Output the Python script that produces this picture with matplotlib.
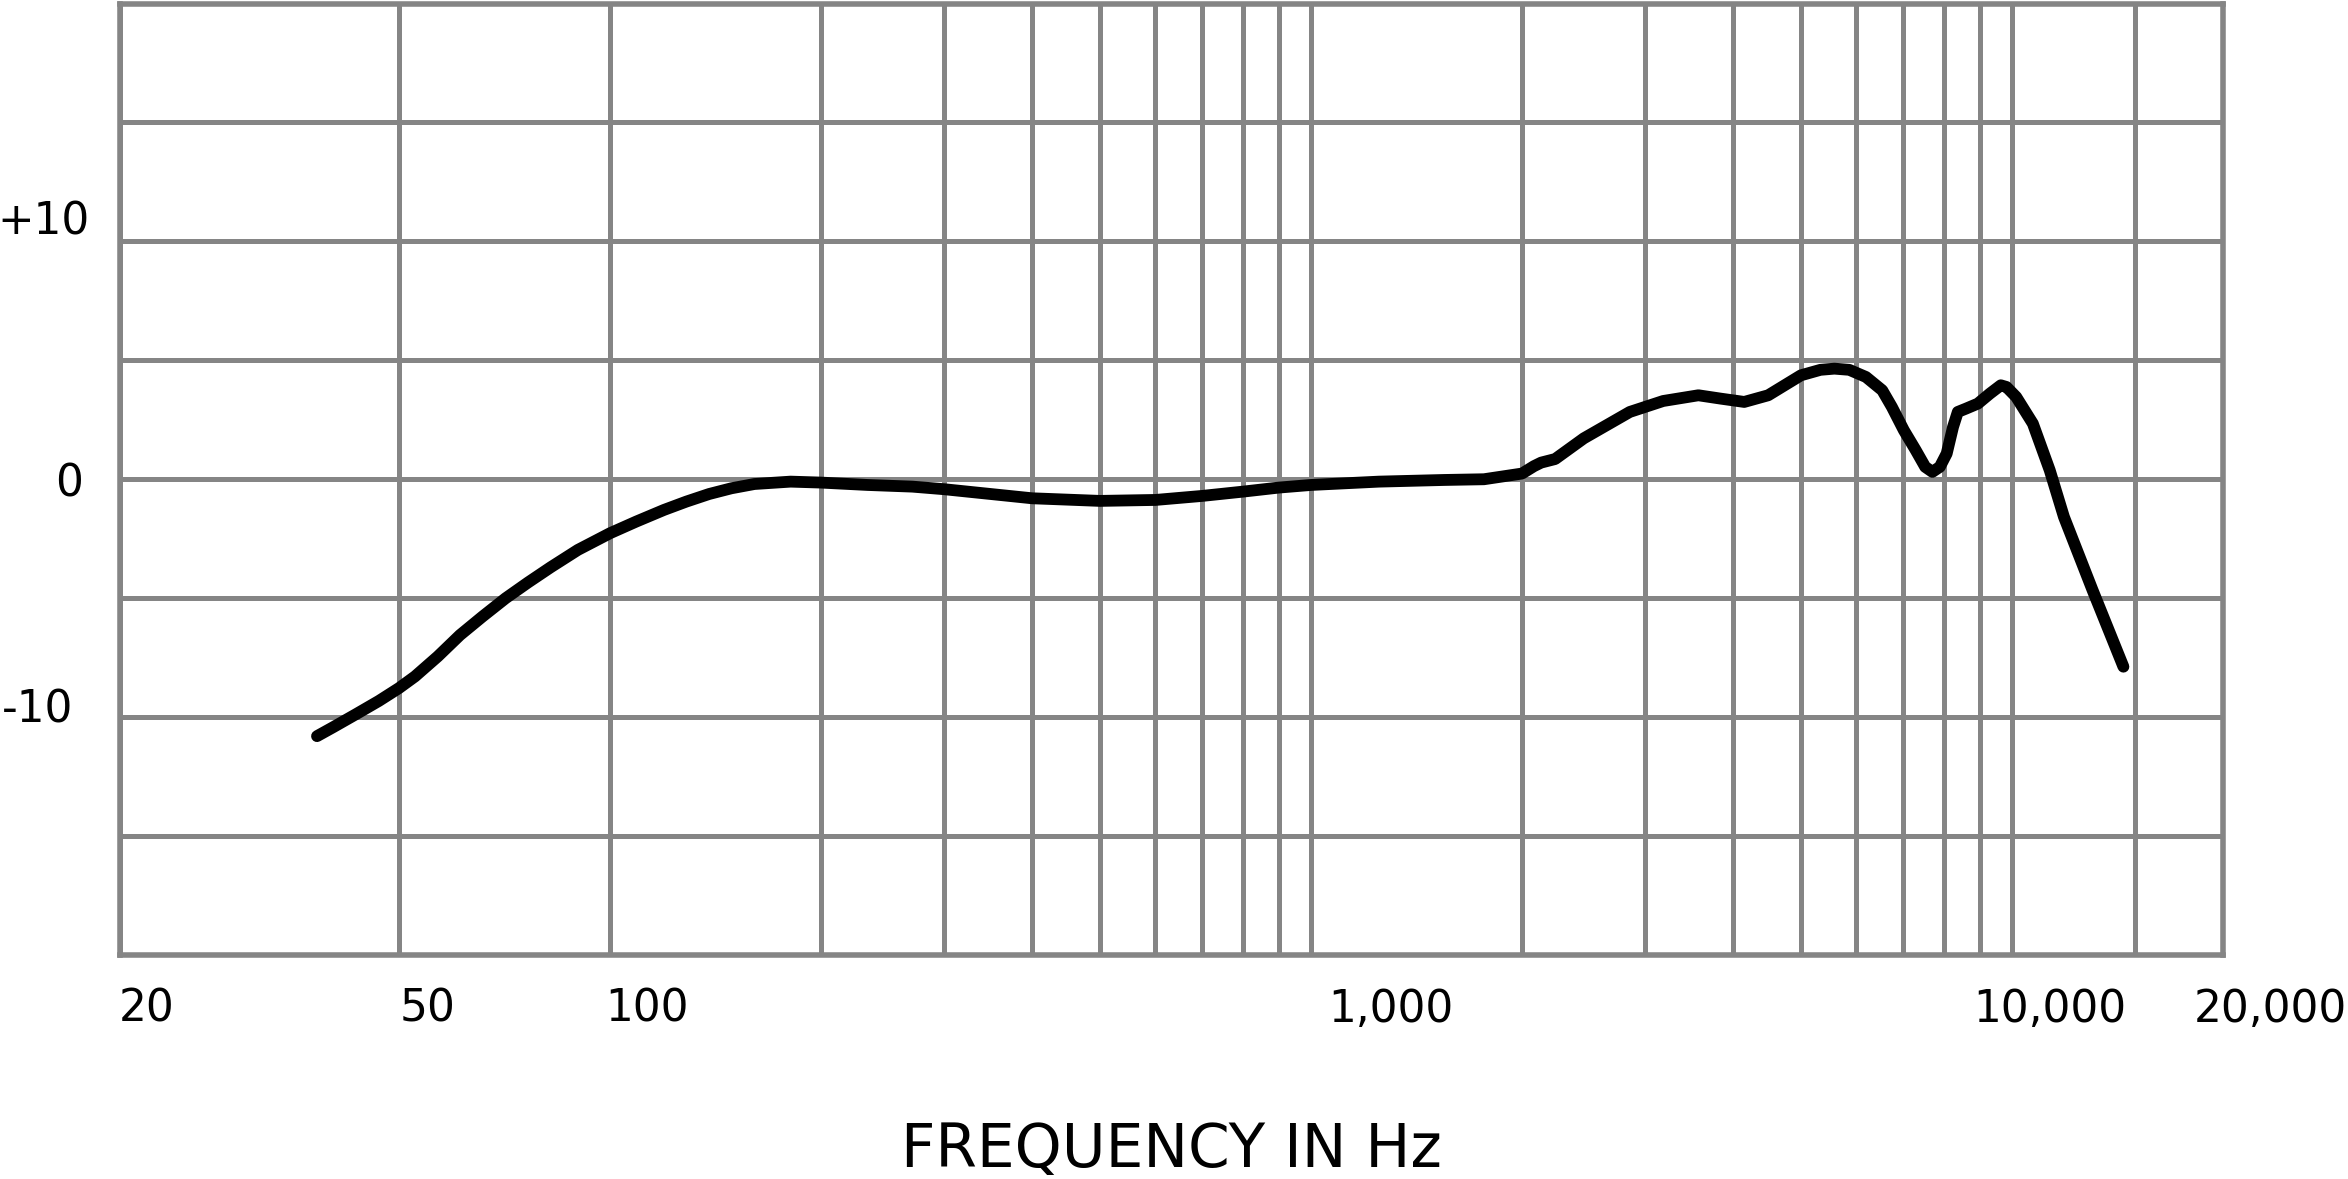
import matplotlib
matplotlib.use('Agg')
import matplotlib.pyplot as plt
import matplotlib.transforms as mtransforms
from matplotlib.ticker import NullFormatter

plt.rcParams['font.family'] = 'DejaVu Sans'

# frequency response (Hz, dB)
freq_hz = [38.2, 40.3, 43.4, 46.8, 50, 52.7, 56.8, 61.1, 65.8, 71, 76.4, 82.3, 90, 100,
           109, 119.4, 128.5, 138.5, 149, 160.7, 181, 200,
           233, 270, 300, 400, 500, 600, 700, 800, 900, 1000, 1250, 1550, 1765,
           2000, 2080, 2130, 2230, 2450, 2850, 3180, 3570, 3840, 4150, 4490,
           5000, 5330, 5580, 5860, 6190, 6530, 6740, 7010, 7290, 7520, 7700,
           7890, 8070, 8240, 8370, 8600, 8940, 9300, 9640, 9820, 10140, 10710,
           11320, 11860, 13030, 14420]
response_db = [-10.8, -10.42, -9.88, -9.32, -8.78, -8.29, -7.45, -6.55, -5.77, -5.0, -4.34, -3.7, -2.97, -2.27,
               -1.78, -1.29, -0.94, -0.62, -0.38, -0.2, -0.1, -0.14,
               -0.24, -0.31, -0.42, -0.8, -0.91, -0.87, -0.7, -0.52, -0.35, -0.24, -0.1, -0.03, 0.0,
               0.24, 0.55, 0.7, 0.85, 1.72, 2.83, 3.29, 3.53, 3.39, 3.25, 3.53,
               4.37, 4.6, 4.65, 4.6, 4.3, 3.74, 3.04, 2.06, 1.22, 0.52, 0.31,
               0.52, 1.08, 2.2, 2.83, 2.97, 3.18, 3.6, 3.95, 3.88, 3.46, 2.34,
               0.38, -1.58, -4.66, -7.88]

# axis labels and grid
x_label_pos = [20, 50, 100, 1000, 10000, 20000]
x_labels = ['20', '50', '100', '1,000', '10,000', '20,000']
x_label_dx = [-1, 1, -5, 17, -39, -29]   # pixel nudges, labels sit oddly in the original
x_grid_pos = [200, 300, 400, 500, 600, 700, 800, 900,
              2000, 3000, 4000, 5000, 6000, 7000, 8000, 9000, 15000]
y_label_pos = [-10, 0, 10]
y_labels = ['-10', '0', '+10']
y_label_dx = [-15, -5, 2]
y_label_dy = [12, 0, 24]
y_grid_pos = [-15, -5, 5, 15]

grid_color = '#858585'

fig = plt.figure(figsize=(23.48, 11.79), dpi=100)
ax = fig.add_axes([120 / 2348, 1 - 955 / 1179, (2223 - 120) / 2348, (955 - 3.5) / 1179])

ax.plot(freq_hz, response_db, color='black', lw=8.5, solid_capstyle='round',
        solid_joinstyle='round', zorder=3)

ax.set_xscale('log')
ax.set_xlim(20, 20000)
ax.set_ylim(-20, 20)

ax.set_xticks(x_label_pos, x_labels)
ax.set_xticks(x_grid_pos, minor=True)
ax.xaxis.set_minor_formatter(NullFormatter())
ax.set_yticks(y_label_pos, y_labels)
ax.set_yticks(y_grid_pos, minor=True)
ax.yaxis.set_minor_formatter(NullFormatter())

ax.grid(True, which='both', color=grid_color, lw=3.6, zorder=1)
ax.set_axisbelow(True)
ax.tick_params(which='both', length=0)
ax.tick_params(axis='x', pad=23.5, labelsize=31.5)
ax.tick_params(axis='y', pad=23, labelsize=31.5)
for s in ax.spines.values():
    s.set_color(grid_color)
    s.set_linewidth(4)

# nudge tick labels like in the original
for lab, dx in zip(ax.get_xticklabels(), x_label_dx):
    lab.set_ha('left')
    lab.set_transform(lab.get_transform() + mtransforms.ScaledTranslation(dx / 100, 0, fig.dpi_scale_trans))
for lab, dx, dy in zip(ax.get_yticklabels(), y_label_dx, y_label_dy):
    lab.set_transform(lab.get_transform() + mtransforms.ScaledTranslation(dx / 100, dy / 100, fig.dpi_scale_trans))

ax.set_xlabel('FREQUENCY IN Hz', fontsize=43)
ax.xaxis.set_label_coords(0.5, -(1121 - 955) / 951.5)

fig.savefig('out.png', dpi=100)
